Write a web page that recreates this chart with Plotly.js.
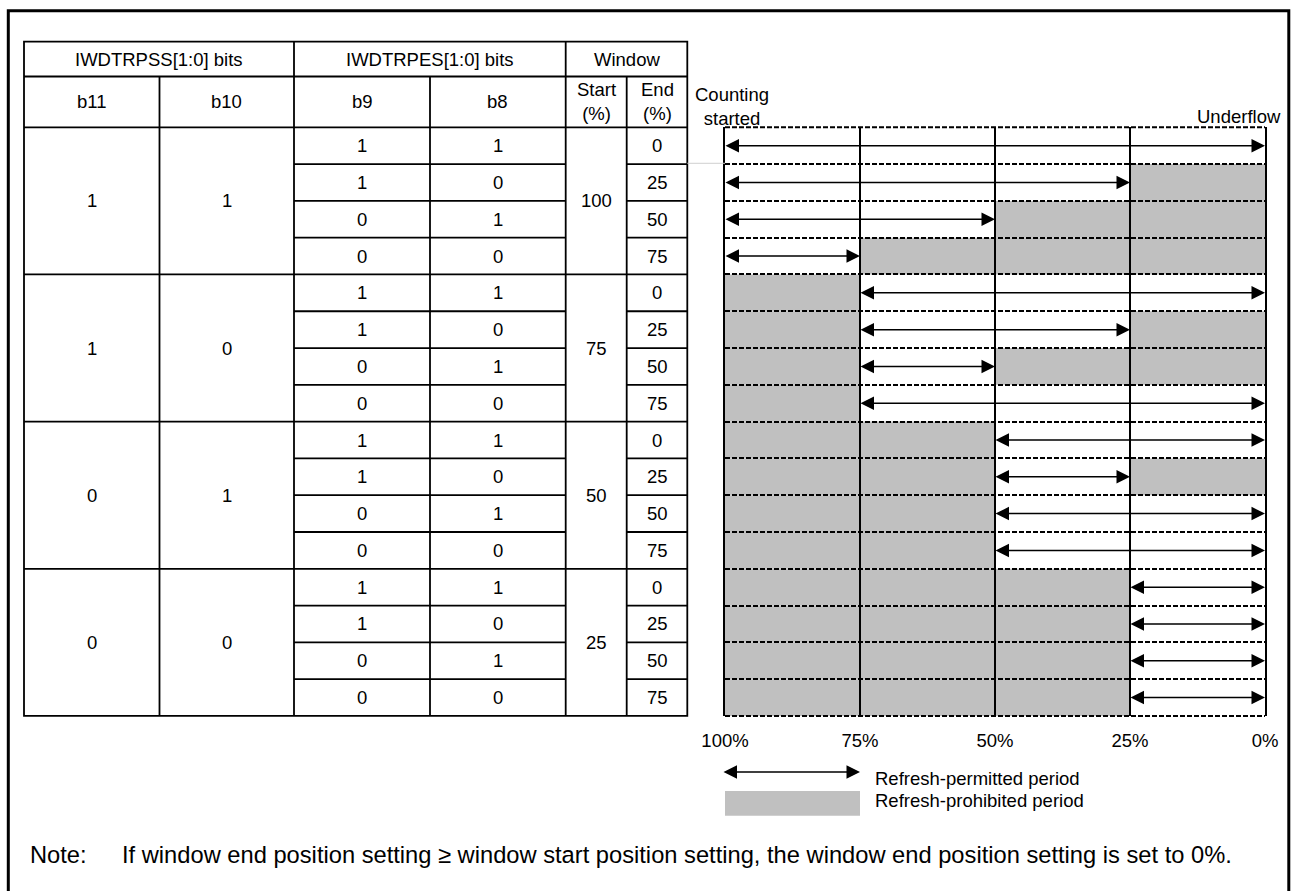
<!DOCTYPE html>
<html>
<head>
<meta charset="utf-8">
<script src="https://cdn.plot.ly/plotly-3.0.1.min.js"></script>
<style>
html,body{margin:0;padding:0;background:#ffffff;}
#chart{width:1291px;height:891px;}
</style>
</head>
<body>
<div id="chart"></div>
<script>
// ---------------- data ----------------
const headerGroups = ['IWDTRPSS[1:0] bits', 'IWDTRPES[1:0] bits', 'Window'];
const columnHeads = ['b11', 'b10', 'b9', 'b8', 'Start<br>(%)', 'End<br>(%)'];
const groupB11 = ['1', '1', '0', '0'];
const groupB10 = ['1', '0', '1', '0'];
const groupStart = ['100', '75', '50', '25'];
const rowB9 = ['1','1','0','0', '1','1','0','0', '1','1','0','0', '1','1','0','0'];
const rowB8 = ['1','0','1','0', '1','0','1','0', '1','0','1','0', '1','0','1','0'];
const rowEnd = ['0','25','50','75', '0','25','50','75', '0','25','50','75', '0','25','50','75'];
// refresh-permitted period of each row (counter value in %)
const permittedFrom = [100,100,100,100, 75,75,75,75, 50,50,50,50, 25,25,25,25];
const permittedTo   = [0,25,50,75, 0,25,50,0, 0,25,0,0, 0,0,0,0];
const axisTicks = [100, 75, 50, 25, 0];
const axisTickText = ['100%', '75%', '50%', '25%', '0%'];
const legendLabels = ['Refresh-permitted period', 'Refresh-prohibited period'];
const startLabel = 'Counting<br>started';
const endLabel = 'Underflow';
const noteHead = 'Note:';
const noteText = 'If window end position setting \u2265 window start position setting, the window end position setting is set to 0%.';

// ---------------- layout geometry ----------------
const W = 1291, H = 891;
const FONT = 'Liberation Sans, Arial, Helvetica, sans-serif';
const FS = 18.5;
const px = x => x / W;
const py = y => 1 - y / H;
const tX = [24, 159.5, 294, 430, 565.7, 626.7, 687.3];
const tTop = 41.7, tH1 = 76.5, tH2 = 127.3, rowH = 36.79;
const nRows = rowEnd.length;
const tBot = tH2 + nRows * rowH;
const dLeft = 725, dRight = 1265;
const LW = 1.8;
const DASH = '5px,2px';

const shapes = [];
const annotations = [];

function pline(x0, y0, x1, y1, color, width, dash) {
  shapes.push({type: 'line', xref: 'paper', yref: 'paper',
    x0: px(x0), y0: py(y0), x1: px(x1), y1: py(y1),
    line: {color: color || '#000', width: width || LW, dash: dash || 'solid'}});
}
function ptext(txt, x, y, xanchor, size) {
  annotations.push({xref: 'paper', yref: 'paper', x: px(x), y: py(y),
    text: txt, showarrow: false, xanchor: xanchor || 'center', yanchor: 'middle',
    font: {family: FONT, size: size || FS, color: '#000'}});
}

// page border
shapes.push({type: 'rect', xref: 'paper', yref: 'paper',
  x0: px(8.3), y0: py(10.8), x1: px(1288.8), y1: py(H + 6),
  line: {color: '#000', width: 3}, fillcolor: 'rgba(0,0,0,0)'});

// table frame
shapes.push({type: 'rect', xref: 'paper', yref: 'paper',
  x0: px(tX[0]), y0: py(tTop), x1: px(tX[6]), y1: py(tBot),
  line: {color: '#000', width: LW}, fillcolor: 'rgba(0,0,0,0)'});
pline(tX[0], tH1, tX[6], tH1);
pline(tX[0], tH2, tX[6], tH2);
[2, 4].forEach(i => pline(tX[i], tTop, tX[i], tBot));
[1, 3, 5].forEach(i => pline(tX[i], tH1, tX[i], tBot));
for (let k = 1; k < nRows; k++) {
  const y = tH2 + k * rowH;
  if (k % 4 === 0) {
    pline(tX[0], y, tX[6], y);
  } else {
    pline(tX[2], y, tX[4], y);
    pline(tX[5], y, tX[6], y);
  }
}
// faint connector line
pline(tX[6], tH2 + rowH - 0.8, dLeft, tH2 + rowH - 0.8, '#cfcfcf', 1);

// table header text
const hy1 = (tTop + tH1) / 2, hy2 = (tH1 + tH2) / 2;
ptext(headerGroups[0], (tX[0] + tX[2]) / 2, hy1);
ptext(headerGroups[1], (tX[2] + tX[4]) / 2, hy1);
ptext(headerGroups[2], (tX[4] + tX[6]) / 2, hy1);
columnHeads.forEach((h, i) => ptext(h, (tX[i] + tX[i + 1]) / 2, hy2));

// table body text
const colC = i => (tX[i] + tX[i + 1]) / 2;
for (let g = 0; g < groupB11.length; g++) {
  const yc = tH2 + (4 * g + 2) * rowH;
  ptext(groupB11[g], colC(0), yc);
  ptext(groupB10[g], colC(1), yc);
  ptext(groupStart[g], colC(4), yc);
}
for (let k = 0; k < nRows; k++) {
  const yc = tH2 + (k + 0.5) * rowH;
  ptext(rowB9[k], colC(2), yc);
  ptext(rowB8[k], colC(3), yc);
  ptext(rowEnd[k], colC(5), yc);
}

// diagram: prohibited periods (gray) and permitted periods (arrows)
const GRAY = '#c0c0c0';
for (let k = 0; k < nRows; k++) {
  if (permittedFrom[k] < 100) {
    shapes.push({type: 'rect', xref: 'x2', yref: 'y2', layer: 'below',
      x0: 100, x1: permittedFrom[k], y0: k, y1: k + 1,
      fillcolor: GRAY, line: {width: 0}});
  }
  if (permittedTo[k] > 0) {
    shapes.push({type: 'rect', xref: 'x2', yref: 'y2', layer: 'below',
      x0: permittedTo[k], x1: 0, y0: k, y1: k + 1,
      fillcolor: GRAY, line: {width: 0}});
  }
  annotations.push({xref: 'x2', yref: 'y2', axref: 'x2', ayref: 'y2',
    x: permittedTo[k], y: k + 0.5, ax: permittedFrom[k], ay: k + 0.5,
    text: '', showarrow: true, arrowside: 'end+start',
    arrowhead: 2, startarrowhead: 2, arrowsize: 1.8, startarrowsize: 1.8,
    arrowwidth: 1.5, arrowcolor: '#000', standoff: 0, startstandoff: 0,
    font: {size: 1}, borderpad: 0});
}
// top and bottom dashed boundaries of the diagram (unclipped)
pline(dLeft, tH2, dRight, tH2, '#000', 2, DASH);
pline(dLeft, tBot, dRight, tBot, '#000', 2, DASH);

// diagram labels
ptext(startLabel, 732, 106);
ptext(endLabel, 1283, 117, 'right');

// legend
annotations.push({xref: 'paper', yref: 'paper', x: px(860), y: py(772),
  axref: 'pixel', ayref: 'pixel', ax: -(860 - 723), ay: 0,
  text: '', showarrow: true, arrowside: 'end+start',
  arrowhead: 2, startarrowhead: 2, arrowsize: 1.8, startarrowsize: 1.8,
  arrowwidth: 1.5, arrowcolor: '#000', standoff: 0, startstandoff: 0,
  font: {size: 1}, borderpad: 0});
ptext(legendLabels[0], 873, 778, 'left');
shapes.push({type: 'rect', xref: 'paper', yref: 'paper',
  x0: px(725), y0: py(791), x1: px(860), y1: py(815.7),
  fillcolor: GRAY, line: {width: 0}});
ptext(legendLabels[1], 873, 800.7, 'left');

// note
ptext(noteHead, 28, 855, 'left', 23.7);
ptext(noteText, 120, 855, 'left', 23.7);

const rowIdx = [];
for (let k = 0; k <= nRows; k++) rowIdx.push(k);

const layout = {
  width: W, height: H,
  margin: {l: 0, r: 0, t: 0, b: 0, pad: 0},
  paper_bgcolor: '#ffffff', plot_bgcolor: 'rgba(0,0,0,0)',
  showlegend: false,
  font: {family: FONT, size: FS, color: '#000'},
  xaxis2: {
    domain: [px(dLeft), px(dRight)], range: [100, 0], anchor: 'y2',
    tickmode: 'array', tickvals: axisTicks, ticktext: axisTickText,
    showgrid: true, gridcolor: '#000', gridwidth: 2,
    zeroline: false, showline: false, ticks: '',
    ticklabelstandoff: 12,
    tickfont: {family: FONT, size: FS, color: '#000'}, fixedrange: true
  },
  yaxis2: {
    domain: [py(tBot), py(tH2)], range: [nRows, 0], anchor: 'x2',
    tickmode: 'array', tickvals: rowIdx, showticklabels: false,
    showgrid: true, gridcolor: '#000', gridwidth: 2, griddash: DASH,
    zeroline: false, showline: true, mirror: true, linecolor: '#000', linewidth: 2,
    ticks: '', fixedrange: true
  },
  shapes: shapes,
  annotations: annotations
};

const traces = [{type: 'scatter', x: [], y: [], xaxis: 'x2', yaxis: 'y2',
  hoverinfo: 'skip', showlegend: false}];

Plotly.newPlot('chart', traces, layout, {staticPlot: true, displayModeBar: false});
</script>
</body>
</html>
